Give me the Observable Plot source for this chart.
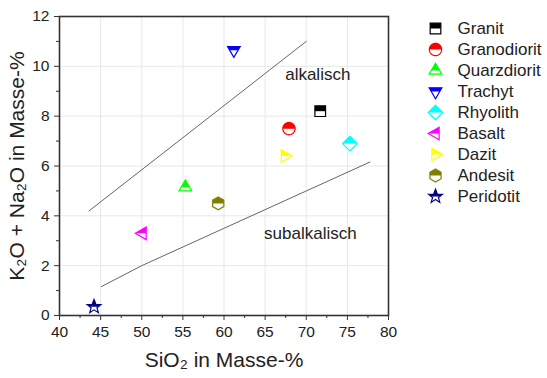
<!DOCTYPE html>
<html><head><meta charset="utf-8">
<script src="https://cdn.jsdelivr.net/npm/d3@7"></script>
<script src="https://cdn.jsdelivr.net/npm/@observablehq/plot@0.6"></script>
<style>
body{margin:0;background:#fff;}
#wrap{position:relative;width:547px;height:378px;font-family:"Liberation Sans",Arial,sans-serif;}
#chart{position:absolute;left:0;top:0;}
#legend{position:absolute;left:400px;top:0;}
</style></head><body>
<div id="wrap"><div id="chart"></div><div id="legend"></div></div>
<script>
// ---- data ----
const names = ["Granit","Granodiorit","Quarzdiorit","Trachyt","Rhyolith","Basalt","Dazit","Andesit","Peridotit"];
const sio2 = [71.7, 67.9, 55.3, 61.2, 75.3, 50.1, 67.4, 59.3, 44.2];
const alkali = [8.2, 7.5, 5.15, 10.65, 6.9, 3.3, 6.4, 4.5, 0.35];
const colors = ["#000000","#ff0000","#00ff00","#0000ff","#00ffff","#ff00ff","#ffff00","#808000","#000080"];
const shapes = ["square","circle","triangleUp","triangleDown","diamond","triangleLeft","triangleRight","hexagon","star"];
const xTicks = [40,45,50,55,60,65,70,75,80];
const xMinor = [42.5,47.5,52.5,57.5,62.5,67.5,72.5,77.5];
const yTicks = [0,2,4,6,8,10,12];
const yMinor = [1,3,5,7,9,11];
const upperX = [43.6, 70.0], upperY = [4.2, 11.0];
const lowerX = [45.1, 50.0, 77.75], lowerY = [1.16, 2.0, 6.16];
const labelText = ["alkalisch","subalkalisch"], labelX = [71.4, 70.5], labelY = [9.68, 3.29];
const xTitle = "SiO₂ in Masse-%";
const yTitle = "K₂O + Na₂O in Masse-%";

// ---- symbols ----
function unitPoly(s){
  const p = [];
  switch(s){
    case "square": return [[-0.95,-0.95],[0.95,-0.95],[0.95,0.95],[-0.95,0.95]];
    case "circle": for(let k=0;k<40;k++){const a=2*Math.PI*k/40;p.push([1.1*Math.cos(a),1.1*Math.sin(a)]);} return p;
    case "triangleUp": return [[0,-1.3],[1.13,0.65],[-1.13,0.65]];
    case "triangleDown": return [[0,1.3],[-1.13,-0.65],[1.13,-0.65]];
    case "diamond": return [[0,-1.3],[1.3,0],[0,1.3],[-1.3,0]];
    case "triangleLeft": return [[-1.3,0],[0.65,-1.13],[0.65,1.13]];
    case "triangleRight": return [[1.3,0],[-0.65,1.13],[-0.65,-1.13]];
    case "hexagon": for(let k=0;k<6;k++){const a=-Math.PI/2+k*Math.PI/3;p.push([1.15*Math.cos(a),1.15*Math.sin(a)]);} return p;
    case "star": for(let k=0;k<10;k++){const a=-Math.PI/2+k*Math.PI/5;const rr=k%2?0.55:1.3;p.push([rr*Math.cos(a),rr*Math.sin(a)]);} return p;
  }
}
function clipTop(pts){
  const mid = 0;
  const out = [];
  for(let i=0;i<pts.length;i++){
    const a=pts[i], b=pts[(i+1)%pts.length];
    const ain=a[1]<=mid, bin=b[1]<=mid;
    if(ain) out.push(a);
    if(ain!==bin){const t=(mid-a[1])/(b[1]-a[1]); out.push([a[0]+t*(b[0]-a[0]), mid]);}
  }
  return out;
}
function makeSymbol(pts){
  return {draw(ctx,size){
    const r = Math.sqrt(size/Math.PI);
    pts.forEach((p,i)=> i ? ctx.lineTo(p[0]*r,p[1]*r) : ctx.moveTo(p[0]*r,p[1]*r));
    ctx.closePath();
  }};
}
const fullSym = shapes.map(s=>makeSymbol(unitPoly(s)));
const halfSym = shapes.map(s=>makeSymbol(clipTop(unitPoly(s))));

function markerMarks(i, opts){
  return [
    Plot.dot([i], {...opts, symbol: fullSym[i], r: 5.6, fill: "white", stroke: "none"}),
    Plot.dot([i], {...opts, symbol: halfSym[i], r: 5.6, fill: colors[i], stroke: "none"}),
    Plot.dot([i], {...opts, symbol: fullSym[i], r: 5.6, fill: "none", stroke: colors[i], strokeWidth: 1.2})
  ];
}

const font = "Liberation Sans, Arial, sans-serif";
const idx = d3.range(names.length);

const chart = Plot.plot({
  width: 400, height: 378,
  marginLeft: 59, marginRight: 12, marginTop: 16, marginBottom: 63,
  x: {domain: [40, 80]},
  y: {domain: [0, 12]},
  style: {fontFamily: font, fontSize: "15px", color: "#222", background: "white"},
  marks: [
    Plot.gridX({ticks: xTicks, stroke: "#e8e8e8", strokeOpacity: 1}),
    Plot.gridY({ticks: yTicks, stroke: "#e8e8e8", strokeOpacity: 1}),
    Plot.axisX({ticks: xMinor, tickSize: 3, tickFormat: () => "", label: null, stroke: "#333"}),
    Plot.axisX({ticks: xTicks, tickSize: 5, tickPadding: 5, label: null, stroke: "#333", fontSize: 15.5}),
    Plot.axisY({ticks: yMinor, tickSize: 3, tickFormat: () => "", label: null, stroke: "#333"}),
    Plot.axisY({ticks: yTicks, tickSize: 5, tickPadding: 5, label: null, stroke: "#333", fontSize: 15.5}),
    Plot.frame({stroke: "#333", strokeWidth: 1.6}),
    Plot.line(upperX.map((x,i)=>({x, y: upperY[i]})), {x: "x", y: "y", stroke: "#666", strokeWidth: 1}),
    Plot.line(lowerX.map((x,i)=>({x, y: lowerY[i]})), {x: "x", y: "y", stroke: "#666", strokeWidth: 1}),
    Plot.text(labelText, {x: (d,i)=>labelX[i], y: (d,i)=>labelY[i], text: d=>d, fontSize: 17, fill: "#222"}),
    ...idx.flatMap(i => markerMarks(i, {x: j=>sio2[j], y: j=>alkali[j]})),
    Plot.text([xTitle], {frameAnchor: "bottom", lineAnchor: "middle", textAnchor: "middle", dy: 45, text: d=>d, fontSize: 21, fill: "#222"}),
    Plot.text([yTitle], {frameAnchor: "left", lineAnchor: "middle", textAnchor: "middle", dx: -42, rotate: -90, text: d=>d, fontSize: 21, fill: "#222"})
  ]
});
document.getElementById("chart").appendChild(chart);

const legend = Plot.plot({
  width: 147, height: 220, margin: 0,
  x: {type: "linear", domain: [0, 1], range: [35, 57], axis: null},
  y: {type: "point", padding: 0, domain: names, range: [25.7, 198.3], axis: null},
  style: {fontFamily: font, background: "transparent"},
  marks: [
    ...idx.flatMap(i => markerMarks(i, {x: () => 0, y: j=>names[j]})),
    Plot.text(names, {x: () => 1, y: d=>d, text: d=>d, textAnchor: "start", fontSize: 17, fill: "#222"})
  ]
});
document.getElementById("legend").appendChild(legend);
</script>
</body></html>
